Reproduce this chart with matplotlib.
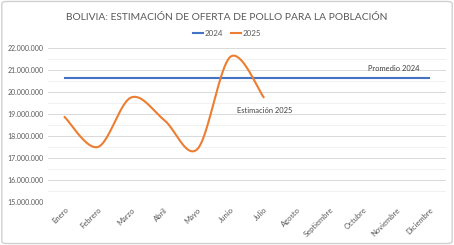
import matplotlib
matplotlib.use("Agg")
import matplotlib.pyplot as plt
import numpy as np
from matplotlib.patches import FancyBboxPatch

months = ["Enero", "Febrero", "Marzo", "Abril", "Mayo", "Junio", "Julio",
          "Agosto", "Septiembre", "Octubre", "Noviembre", "Diciembre"]
promedio_2024 = [20650000] * 12
estimacion_2025 = [18860000, 17500000, 19750000, 18730000, 17400000, 21600000, 19770000]
yticks = [15000000, 16000000, 17000000, 18000000, 19000000, 20000000, 21000000, 22000000]

plt.rcParams['font.family'] = ['Lato', 'DejaVu Sans']

def smooth(xs, ys, n=40):
    xs = np.asarray(xs, float); ys = np.asarray(ys, float)
    P = np.column_stack([xs, ys])
    out = []
    for i in range(len(P) - 1):
        p0 = P[i - 1] if i > 0 else P[i]
        p1 = P[i]; p2 = P[i + 1]
        p3 = P[i + 2] if i + 2 < len(P) else P[i + 1]
        b1 = p1 + (p2 - p0) / 6
        b2 = p2 - (p3 - p1) / 6
        t = np.linspace(0, 1, n)[:, None]
        seg = (1 - t) ** 3 * p1 + 3 * (1 - t) ** 2 * t * b1 + 3 * (1 - t) * t ** 2 * b2 + t ** 3 * p2
        out.append(seg if i == 0 else seg[1:])
    s = np.vstack(out)
    return s[:, 0], s[:, 1]

fig = plt.figure(figsize=(4.54, 2.45), dpi=100)
fig.patch.set_facecolor('white')
border = FancyBboxPatch((0.004, 0.006), 0.992, 0.988, boxstyle="round,pad=0,rounding_size=0.01",
                        transform=fig.transFigure, fill=False, edgecolor='#d0d0d0', linewidth=1.0)
fig.patches.append(border)

ax = fig.add_axes([0.106, 0.1755, 0.876, 0.6285])
x = np.arange(len(months))
ax.plot(x, promedio_2024, color='#4472c4', linewidth=1.5, label='2024')
sx, sy = smooth(np.arange(len(estimacion_2025)), estimacion_2025)
ax.plot(sx, sy, color='#ed7d31', linewidth=1.5, label='2025')

ax.set_xlim(-0.5, 11.5)
ax.set_ylim(15000000, 22000000)
ax.set_yticks(yticks)
ax.set_yticklabels([f"{v:,}".replace(",", ".") for v in yticks], fontsize=5.0, color='#595959')
ax.set_yticks(np.arange(15500000, 22000000, 1000000), minor=True)
ax.set_xticks(x)
ax.set_xticklabels(months, rotation=45, ha='right', rotation_mode='anchor', fontsize=5.5, color='#595959')
ax.tick_params(axis='both', length=0, pad=3)
ax.tick_params(axis='y', which='minor', length=0)
ax.grid(axis='y', which='major', color='#d9d9d9', linewidth=0.7)
ax.grid(axis='y', which='minor', color='#efefef', linewidth=0.6)
ax.set_axisbelow(True)
for sp in ax.spines.values():
    sp.set_visible(False)

ax.text(9.15, 21080000, "Promedio 2024", fontsize=5.4, color='#404040', ha='left', va='center')
ax.text(5.2, 19150000, "Estimación 2025", fontsize=5.4, color='#404040', ha='left', va='center')

fig.text(0.5, 0.93, "BOLIVIA: ESTIMACIÓN DE OFERTA DE POLLO PARA LA POBLACIÓN",
         ha='center', va='center', fontsize=7.4, color='#595959')
fig.legend(loc='center', bbox_to_anchor=(0.5, 0.862), ncol=2, frameon=False, fontsize=5.8,
           handlelength=1.3, columnspacing=0.9, handletextpad=0.2, labelcolor='#595959')

fig.savefig("out.png", dpi=100)
